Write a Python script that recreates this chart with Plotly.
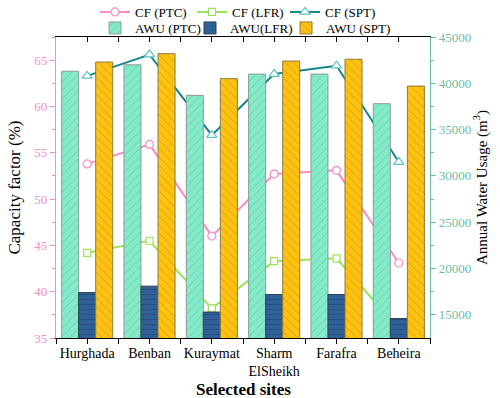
import plotly.graph_objects as go

sites = ["Hurghada", "Benban", "Kuraymat", "Sharm<br>ElSheikh", "Farafra", "Beheira"]
xpos = [0, 1, 2, 3, 4, 5]

cf_ptc = [53.8, 55.9, 46.0, 52.7, 53.1, 43.1]
cf_lfr = [44.2, 45.5, 38.2, 43.3, 43.6, 36.0]
cf_spt = [63.3, 65.6, 56.9, 63.5, 64.4, 54.0]

awu_ptc = [41300, 42000, 38700, 41000, 41000, 37800]
awu_lfr = [17400, 18100, 15300, 17200, 17200, 14600]
awu_spt = [42300, 43200, 40500, 42400, 42600, 39700]

right_ticks = [15000, 20000, 25000, 30000, 35000, 40000, 45000]
left_ticks = [35, 40, 45, 50, 55, 60, 65]

FONT = "Liberation Serif"
PINK = "#F78DC4"
LGREEN = "#9BE35A"
TEAL = "#14868A"
RAXIS = "#6DBDA2"

fig = go.Figure()

fig.add_trace(go.Scatter(x=xpos, y=cf_ptc, name="CF (PTC)", mode="lines+markers",
                         line=dict(color=PINK, width=2), legend="legend",
                         marker=dict(symbol="circle", size=8, color="white",
                                     line=dict(color=PINK, width=1.2)),
                         yaxis="y"))
fig.add_trace(go.Scatter(x=xpos, y=cf_lfr, name="CF (LFR)", mode="lines+markers",
                         line=dict(color=LGREEN, width=2), legend="legend2",
                         marker=dict(symbol="square", size=7, color="white",
                                     line=dict(color=LGREEN, width=1.2)),
                         yaxis="y"))
fig.add_trace(go.Scatter(x=xpos, y=cf_spt, name="CF (SPT)", mode="lines+markers",
                         line=dict(color=TEAL, width=2), legend="legend3",
                         marker=dict(symbol="triangle-up", size=9, color="white",
                                     line=dict(color="#5FC4C0", width=1.2)),
                         yaxis="y"))

fig.add_trace(go.Bar(x=xpos, y=awu_ptc, name="AWU (PTC)", yaxis="y2", legend="legend4",
                     marker=dict(color="#84EBC9", line=dict(color="#8F9A96", width=1),
                                 pattern=dict(shape="/", fgcolor="#4F9482", size=6, solidity=0.12))))
fig.add_trace(go.Bar(x=xpos, y=awu_lfr, name="AWU(LFR)", yaxis="y2", legend="legend5",
                     marker=dict(color="#2F6198", line=dict(color="#333F4F", width=1),
                                 pattern=dict(shape="-", fgcolor="#1B3556", size=5, solidity=0.15))))
fig.add_trace(go.Bar(x=xpos, y=awu_spt, name="AWU (SPT)", yaxis="y2", legend="legend6",
                     marker=dict(color="#FFC211", line=dict(color="#8E7A40", width=1),
                                 pattern=dict(shape="\\", fgcolor="#8A6A12", size=6, solidity=0.12))))

# dummy trace to carry the top mirror axis
fig.add_trace(go.Scatter(x=[0], y=[50], xaxis="x2", yaxis="y", mode="markers",
                         marker=dict(opacity=0), showlegend=False, hoverinfo="skip"))

H = 398
W = 500


def leg(xpx, ypx):
    return dict(orientation="h", xref="container", xanchor="left", x=xpx / W,
                yref="container", yanchor="middle", y=1 - ypx / H,
                font=dict(family=FONT, size=13, color="black"),
                bgcolor="rgba(0,0,0,0)", itemwidth=30)


fig.update_layout(
    width=W, height=H,
    margin=dict(l=56, r=70, t=37, b=60, autoexpand=False),
    paper_bgcolor="white", plot_bgcolor="white",
    font=dict(family=FONT, size=13, color="black"),
    barmode="group", bargap=0.18, bargroupgap=0,
    showlegend=True,
    legend=leg(95, 12), legend2=leg(192, 12), legend3=leg(285, 12),
    legend4=leg(95, 28), legend5=leg(190, 28), legend6=leg(286, 28),
    xaxis=dict(range=[-0.5, 5.5], tickvals=xpos, ticktext=sites, showgrid=False,
               zeroline=False, ticks="outside", ticklen=5, tickcolor="black",
               showline=True, linecolor="black", linewidth=1.2, automargin=False,
               ticklabelstandoff=-3,
               tickfont=dict(family=FONT, size=14, color="black"),
               minor=dict(tickvals=[-0.5, 0.5, 1.5, 2.5, 3.5, 4.5, 5.5], ticks="outside",
                          ticklen=5, tickcolor="black")),
    xaxis2=dict(overlaying="x", side="top", anchor="y", range=[-0.5, 5.5],
                tickvals=[-0.5, 0, 0.5, 1, 1.5, 2, 2.5, 3, 3.5, 4, 4.5, 5, 5.5],
                showticklabels=False, ticks="inside", ticklen=5, tickcolor="black",
                showline=True, linecolor="black", linewidth=1.2, showgrid=False,
                zeroline=False, automargin=False),
    yaxis=dict(range=[35, 67.5], tickvals=left_ticks, ticktext=[str(v) for v in left_ticks],
               showgrid=False, automargin=False,
               zeroline=False, ticks="outside", ticklen=5, tickcolor=PINK,
               showline=True, linecolor=PINK, linewidth=1.2,
               tickfont=dict(family=FONT, size=13, color=PINK),
               minor=dict(tickvals=[37.5, 42.5, 47.5, 52.5, 57.5, 62.5, 67.5], ticks="outside",
                          ticklen=3, tickcolor=PINK),
               title=dict(text="Capacity factor (%)", font=dict(family=FONT, size=17, color="black"),
                          standoff=9)),
    yaxis2=dict(overlaying="y", side="right", range=[12500, 45000],
                tickvals=right_ticks, ticktext=[str(v) for v in right_ticks], showgrid=False,
                zeroline=False, ticks="outside", ticklen=5, tickcolor=RAXIS, automargin=False,
                showline=True, linecolor=RAXIS, linewidth=1.2,
                tickfont=dict(family=FONT, size=13, color=RAXIS),
                minor=dict(tickvals=[17500, 22500, 27500, 32500, 37500, 42500], ticks="outside",
                           ticklen=3, tickcolor=RAXIS),
                title=dict(text="Annual Water Usage (m<sup>3</sup>)",
                           font=dict(family=FONT, size=15, color="black"), standoff=5)),
    annotations=[dict(text="<b>Selected sites</b>", xref="paper", yref="paper",
                      x=0.5, y=-51 / 301, xanchor="center", yanchor="middle",
                      showarrow=False, font=dict(family=FONT, size=17, color="black"))],
)

fig.write_html("out.html", config={"displayModeBar": False},
               post_script="document.body.style.margin='0';")
